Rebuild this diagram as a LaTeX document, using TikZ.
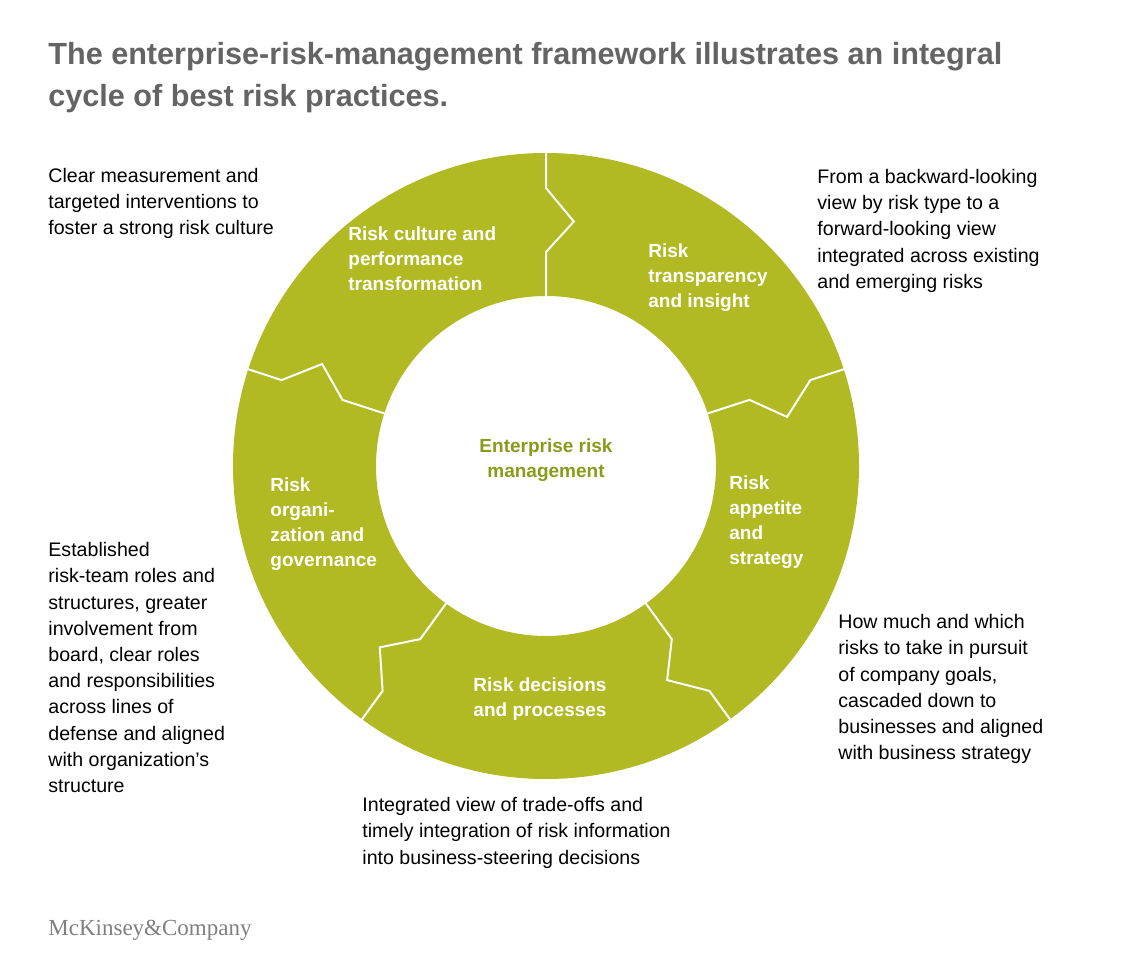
\documentclass[tikz,border=0pt]{standalone}
\usepackage{fontspec}
\setmainfont{Liberation Sans}
\newfontfamily\logofont{Liberation Serif}
\definecolor{olive}{HTML}{B1B923}
\definecolor{dolive}{HTML}{8C9A1A}
\definecolor{titlegray}{HTML}{646464}
\begin{document}
\begin{tikzpicture}[x=0.5pt,y=-0.5pt,
  seglabel/.style={text=white,font=\fontsize{9.5}{12.5}\selectfont\bfseries,align=left,inner sep=0pt},
  note/.style={font=\fontsize{9.8}{13.1}\selectfont,align=left,inner sep=0pt,anchor=north west},
  sep/.style={white,line width=1pt,line join=miter}]
\useasboundingbox (0,0) rectangle (1124,972);
\fill[white] (0,0) rectangle (1124,972);
\node[anchor=north west,inner sep=0pt,text=titlegray,font=\fontsize{15.3}{21}\selectfont\bfseries,align=left] (title) at (48,42)
 {The enterprise-risk-management framework illustrates an integral\\cycle of best risk practices.};
\begin{scope}[shift={(546,466)},yscale=-1]
  \fill[olive,even odd rule] (0,0) circle[radius=313] (0,0) circle[radius=170];
  \foreach \a in {90,18,-54,-126,162}{
    \draw[sep] (\a:315) -- (\a:278) -- (\a-6.5:246) -- (\a:214) -- (\a:168);
  }
\end{scope}
\node[seglabel,anchor=north west] (culture) at (348,226) {Risk culture and\\performance\\transformation};
\node[seglabel,anchor=north west] (transp) at (648,243) {Risk\\transparency\\and insight};
\node[seglabel,anchor=north west] (appetite) at (729,475) {Risk\\appetite\\and\\strategy};
\node[seglabel,anchor=north,align=center] (decis) at (540,677) {Risk decisions\\and processes};
\node[seglabel,anchor=north west] (org) at (270,477) {Risk\\organi-\\zation and\\governance};
\node[seglabel,anchor=center,align=center,text=dolive] (center) at (546,460) {Enterprise risk\\management};
\node[note] (n1) at (48,168) {Clear measurement and\\targeted interventions to\\foster a strong risk culture};
\node[note] (n2) at (817,169) {From a backward-looking\\view by risk type to a\\forward-looking view\\integrated across existing\\and emerging risks};
\node[note] (n3) at (838,614) {How much and which\\risks to take in pursuit\\of company goals,\\cascaded down to\\businesses and aligned\\with business strategy};
\node[note] (n4) at (362,797) {Integrated view of trade-offs and\\timely integration of risk information\\into business-steering decisions};
\node[note] (n5) at (48,542) {Established\\risk-team roles and\\structures, greater\\involvement from\\board, clear roles\\and responsibilities\\across lines of\\defense and aligned\\with organization’s\\structure};
\node[anchor=west,inner sep=0pt,text=gray,font=\logofont\fontsize{11.5}{13}\selectfont] (logo) at (48,930) {McKinsey\&Company};
\end{tikzpicture}
\end{document}
